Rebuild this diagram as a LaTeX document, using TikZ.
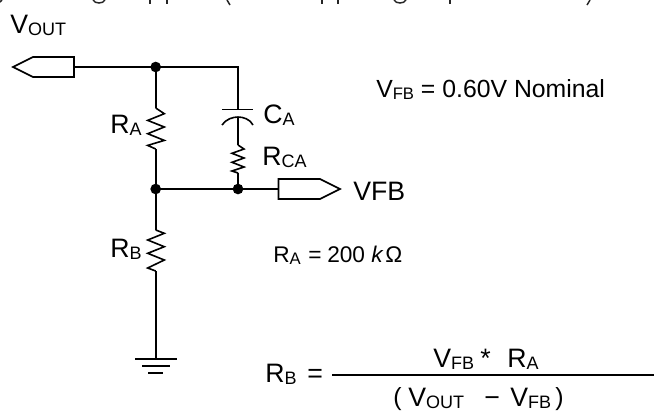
\documentclass[tikz,border=0pt]{standalone}
\usepackage{fontspec}
\setmainfont{Liberation Sans}
\newcommand{\fsz}[1]{\fontsize{#1}{#1}\selectfont}
\newcommand{\subt}[1]{\raisebox{-2.2pt}{\fsz{13.5pt}#1}}
\newcommand{\subd}[1]{\raisebox{-1.5pt}{\fsz{13.5pt}#1}}
\newcommand{\subs}[1]{\raisebox{-1.8pt}{\fsz{12.5pt}#1}}
\tikzset{
  wire/.style={line width=1.2pt,line join=miter,black},
  plug/.style={line width=1.2pt,line join=miter,black,fill=white},
  dot/.style={circle,fill=black,inner sep=0pt,minimum size=8pt},
  big/.style={anchor=base west,inner sep=0pt,font=\fsz{20pt}},
  mid/.style={anchor=base west,inner sep=0pt,font=\fsz{18.6pt}},
  sml/.style={anchor=base west,inner sep=0pt,font=\fsz{17pt}},
  clip mark/.style={line width=1.1pt,black!85}
}
\begin{document}
\begin{tikzpicture}[x=.75pt,y=-.75pt]
\useasboundingbox (0,0) rectangle (654,412);
% remnants of the cut-off line at the top edge
\draw[clip mark] (93,0) .. controls (95,4) and (103,4) .. (105,0);
\draw[clip mark] (150,0) -- (150,4);
\draw[clip mark] (167,0) -- (167,4);
\draw[clip mark] (227,0) -- (230,5);
\draw[clip mark] (322,0) -- (322,4);
\draw[clip mark] (338,0) -- (338,4);
\draw[clip mark] (394,0) .. controls (396,4) and (404,4) .. (406,0);
\draw[clip mark] (450,0) -- (450,4);
\draw[clip mark] (590,0) -- (587,5);
\draw[clip mark] (0,2) -- (2,0);
% anchor points
\coordinate (plugL) at (74,67);
\coordinate (corner) at (238,67);
\coordinate (capT) at (238,109.5);
\coordinate (capB) at (238,117);
\coordinate (rcaT) at (238,145);
\coordinate (rcaB) at (238,173);
\coordinate (raT) at (155.7,108);
\coordinate (raB) at (155.7,149);
\coordinate (rbT) at (155.7,230);
\coordinate (rbB) at (155.7,271);
\coordinate (gnd) at (155.7,359);
\coordinate (plugR) at (278.5,189);
\node[dot] (top) at (155.7,67) {};
\node[dot] (mida) at (155.7,189) {};
\node[dot] (midb) at (238,189) {};
% wires
\draw[wire] (plugL) -- (top.center) -- (corner) -- (capT);
\draw[wire] (top.center) -- (raT);
\draw[wire] (raB) -- (mida.center);
\draw[wire] (mida.center) -- (midb.center) -- (plugR);
\draw[wire] (mida.center) -- (rbT);
\draw[wire] (rbB) -- (gnd);
\draw[wire] (capB) -- (rcaT);
\draw[wire] (rcaB) -- (midb.center);
% resistors
\draw[wire] (raT) -- ++(8.6,5.7) -- ++(-16.6,6.7) -- ++(16.6,6.6) -- ++(-16.6,6.7) -- ++(16.6,6.7) -- ++(-16.6,5) -- (raB);
\draw[wire] (rbT) -- ++(8.6,3.3) -- ++(-16.6,6.7) -- ++(16.6,6.7) -- ++(-16.6,6.6) -- ++(16.6,6.7) -- ++(-16.6,8) -- (rbB);
\draw[wire] (rcaT) -- ++(6,4) -- ++(-12,4.3) -- ++(12,4.7) -- ++(-12,4.3) -- ++(12,4.7) -- ++(-12,4) -- (rcaB);
% capacitor
\draw[wire] (222,109.5) -- (253,109.5);
\draw[wire] (222,125) .. controls (226,119) and (233,117) .. (capB) .. controls (243,117) and (250,119) .. (253,125);
% plugs
\draw[plug] (plugL) -- (74,57) -- (33,57) -- (13,67) -- (33,77) -- (74,77) -- cycle;
\draw[plug] (plugR) -- (278.5,179) -- (320,179) -- (340,189) -- (320,199) -- (278.5,199) -- cycle;
% ground
\draw[wire] (135,359) -- (177,359);
\draw[wire] (142,366) -- (170,366);
\draw[wire] (148,373) -- (163,373);
% labels
\node[big] (lvout) at (10,33) {V\subt{OUT}};
\node[big] (lra) at (110,133) {R\subt{A}};
\node[big] (lca) at (263,123) {C\subt{A}};
\node[big] (lrca) at (262,165) {R\subt{CA}};
\node[big] (lvfb) at (353,200) {VFB};
\node[big] (lrb) at (110,257) {R\subt{B}};
\node[mid] (lnom) at (376,97) {V\subs{FB} = 0.60V Nominal};
% R_A value
\node[sml] (lrav) at (273,262) {R\subs{A}};
\node[sml] (leqa) at (308,262) {=};
\node[sml] (l200) at (327,262) {200};
\node[sml,font=\fsz{17pt}\itshape] (lk) at (371,262) {k};
\node[sml] (lohm) at (385,262) {Ω};
% formula
\node[big] (lrbf) at (265,382) {R\subt{B}};
\node[big] (leqb) at (307,382) {=};
\draw[wire] (332,375) -- (653.5,375);
\node[big] (lnv) at (433,367) {V\subt{FB}};
\node[big] (lstar) at (480,367) {*};
\node[big] (lnr) at (507,367) {R\subt{A}};
\node[mid] (lpo) at (393,405) {(};
\node[big] (ldv) at (408,406) {V\subd{OUT}};
\node[big] (lminus) at (484,406) {−};
\node[big] (ldf) at (510,406) {V\subd{FB}};
\node[mid] (lpc) at (555,405) {)};
\end{tikzpicture}
\end{document}
